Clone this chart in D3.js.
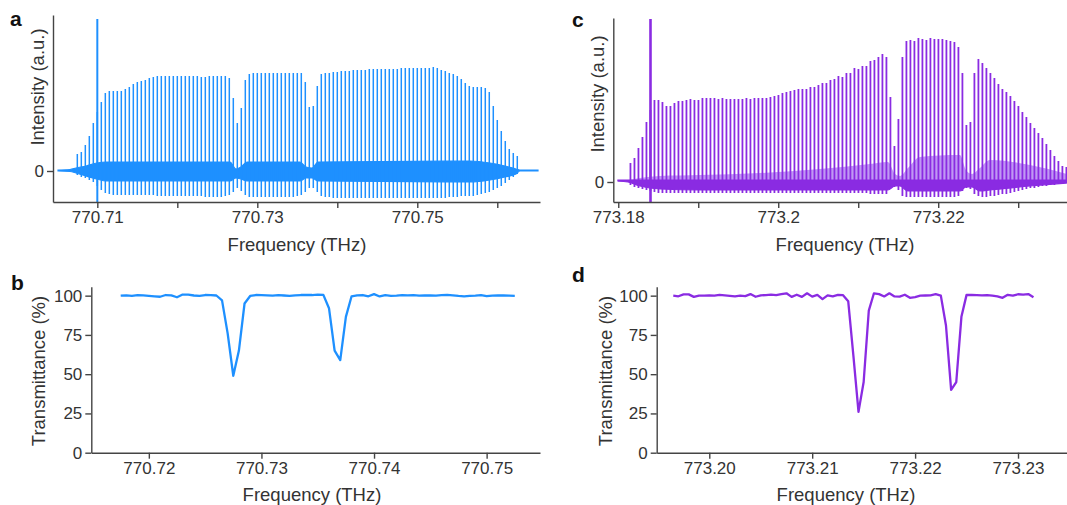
<!DOCTYPE html>
<html><head><meta charset="utf-8">
<script src="https://cdn.jsdelivr.net/npm/d3@7"></script>
<style>
html,body{margin:0;padding:0;background:#fff;}
text{font-family:"Liberation Sans",Arial,Helvetica,sans-serif;}
</style>
</head><body>
<svg id="chart" width="1067" height="505"></svg>
<script>
// ---------------- DATA ----------------
// Panel a: comb teeth (770.7075 ... 770.7625 THz, 0.5 GHz spacing)
const aFirstTooth = 770.7075, aLastTooth = 770.7625;
const aPeaks = [
 0.17,0.19,0.26,0.35,0.48,0.59,0.69,0.78,0.80,0.80,
 0.80,0.80,0.82,0.84,0.87,0.89,0.90,0.91,0.93,0.94,
 0.95,0.95,0.95,0.95,0.95,0.95,0.95,0.95,0.95,0.95,
 0.95,0.94,0.94,0.95,0.95,0.95,0.95,0.95,0.93,0.73,
 0.48,0.63,0.91,0.97,0.98,0.98,0.98,0.98,0.98,0.98,
 0.98,0.98,0.98,0.98,0.98,0.98,0.98,0.89,0.64,0.65,
 0.85,0.97,0.98,0.98,0.99,0.99,1.00,1.00,1.00,1.01,
 1.01,1.01,1.01,1.02,1.02,1.02,1.02,1.02,1.02,1.02,
 1.02,1.03,1.03,1.03,1.03,1.03,1.03,1.03,1.03,1.04,
 1.03,1.01,1.00,0.98,0.97,0.95,0.92,0.88,0.85,0.84,
 0.84,0.84,0.83,0.79,0.65,0.51,0.40,0.30,0.22,0.18,0.15];
const aTroughs = [
 -0.04,-0.06,-0.07,-0.09,-0.11,-0.15,-0.19,-0.22,-0.23,-0.24,
 -0.24,-0.24,-0.24,-0.24,-0.24,-0.24,-0.24,-0.24,-0.24,-0.24,
 -0.25,-0.25,-0.25,-0.25,-0.25,-0.25,-0.25,-0.25,-0.25,-0.25,
 -0.25,-0.25,-0.26,-0.26,-0.26,-0.26,-0.26,-0.25,-0.24,-0.21,
 -0.17,-0.20,-0.24,-0.26,-0.26,-0.26,-0.26,-0.26,-0.26,-0.26,
 -0.26,-0.26,-0.26,-0.26,-0.26,-0.25,-0.24,-0.21,-0.17,-0.17,
 -0.21,-0.25,-0.26,-0.26,-0.27,-0.27,-0.27,-0.27,-0.27,-0.27,
 -0.27,-0.27,-0.27,-0.27,-0.27,-0.27,-0.27,-0.27,-0.27,-0.27,
 -0.27,-0.27,-0.27,-0.27,-0.27,-0.27,-0.27,-0.27,-0.27,-0.27,
 -0.27,-0.27,-0.27,-0.26,-0.26,-0.26,-0.25,-0.25,-0.25,-0.25,
 -0.24,-0.23,-0.22,-0.21,-0.19,-0.17,-0.15,-0.12,-0.09,-0.06,-0.03];
// Panel a: dense oscillation band around zero (envelope knots)
const aBandFreq  = [770.70509,770.70659,770.70734,770.70859,770.70996,770.71109,770.72659,770.72734,770.72796,770.72871,770.73534,770.73609,770.73684,770.73759,770.75659,770.75909,770.76096,770.76234,770.76284,770.76509];
const aBandUpper = [0.01,0.015,0.03,0.05,0.08,0.09,0.09,0.02,0.04,0.09,0.09,0.04,0.03,0.09,0.10,0.08,0.05,0.02,0.01,0.01];
const aBandLower = [0.00,-0.005,-0.02,-0.05,-0.08,-0.10,-0.10,-0.07,-0.08,-0.10,-0.10,-0.07,-0.07,-0.10,-0.11,-0.09,-0.06,-0.03,0.00,0.00];
const aRefLine = {freq: 770.7100, top: 1.52};

// Panel c: comb teeth (773.181525 ... 773.236025 THz)
const cFirstTooth = 773.181525, cLastTooth = 773.236025;
const cPeaks = [
 0.19,0.24,0.34,0.45,0.60,0.72,0.82,0.82,0.80,0.76,
 0.76,0.79,0.81,0.81,0.82,0.83,0.82,0.82,0.84,0.84,
 0.84,0.84,0.83,0.84,0.83,0.83,0.83,0.83,0.83,0.84,
 0.83,0.84,0.84,0.84,0.84,0.85,0.86,0.87,0.89,0.90,
 0.91,0.92,0.93,0.93,0.93,0.95,0.95,0.97,0.99,0.99,
 1.02,1.03,1.06,1.05,1.09,1.09,1.14,1.13,1.16,1.16,
 1.21,1.22,1.25,1.28,1.25,0.85,0.36,0.63,1.25,1.41,
 1.42,1.41,1.44,1.43,1.42,1.44,1.43,1.43,1.43,1.42,
 1.41,1.40,1.35,1.09,0.57,0.60,1.09,1.23,1.19,1.14,
 1.09,1.04,0.98,0.93,0.90,0.86,0.81,0.76,0.70,0.65,
 0.59,0.54,0.49,0.44,0.38,0.32,0.26,0.21,0.16,0.15];
const cTroughs = [
 -0.03,-0.05,-0.06,-0.07,-0.08,-0.09,-0.10,-0.11,-0.11,-0.11,
 -0.11,-0.11,-0.11,-0.11,-0.11,-0.11,-0.11,-0.11,-0.11,-0.11,
 -0.11,-0.11,-0.11,-0.11,-0.11,-0.11,-0.11,-0.11,-0.11,-0.11,
 -0.11,-0.11,-0.11,-0.11,-0.11,-0.11,-0.11,-0.11,-0.11,-0.11,
 -0.11,-0.11,-0.11,-0.11,-0.11,-0.11,-0.11,-0.11,-0.11,-0.11,
 -0.11,-0.11,-0.11,-0.11,-0.11,-0.11,-0.11,-0.11,-0.11,-0.11,
 -0.12,-0.12,-0.12,-0.12,-0.12,-0.06,-0.05,-0.08,-0.14,-0.15,
 -0.15,-0.15,-0.15,-0.15,-0.15,-0.15,-0.15,-0.15,-0.15,-0.15,
 -0.15,-0.15,-0.14,-0.09,-0.06,-0.07,-0.12,-0.14,-0.15,-0.15,
 -0.14,-0.14,-0.13,-0.12,-0.12,-0.11,-0.10,-0.09,-0.08,-0.07,
 -0.06,-0.06,-0.05,-0.04,-0.04,-0.03,-0.03,-0.02,-0.02,-0.01];
// Panel c: oscillation band knots (light part above zero, dark part below)
const cBandFreq  = [773.17996,773.18121,773.18271,773.18521,773.19021,773.19771,773.20521,773.21146,773.21371,773.21459,773.21521,773.21621,773.21771,773.22271,773.22346,773.22421,773.22521,773.22646,773.23146,773.23609];
const cLightUpper = [0.02,0.02,0.04,0.06,0.07,0.09,0.13,0.18,0.20,0.08,0.06,0.14,0.25,0.27,0.12,0.08,0.14,0.22,0.17,0.08];
const cDarkUpper  = [0.02,0.02,0.02,0.02,0.02,0.02,0.02,0.02,0.02,0.02,0.02,0.02,0.02,0.02,0.02,0.02,0.02,0.02,0.02,0.02];
const cDarkLower  = [0.01,0.00,-0.04,-0.07,-0.08,-0.08,-0.08,-0.08,-0.08,-0.04,-0.04,-0.09,-0.09,-0.09,-0.05,-0.05,-0.09,-0.08,-0.04,-0.01];
const cRefLine = {freq: 773.18403, top: 1.63};

// Panel b: transmittance (%) at 770.7175 ... 770.7525 THz
const bFirstFreq = 770.7175, bLastFreq = 770.7525;
const bValues = [
 100.0,100.2,99.8,100.3,100.2,99.9,99.6,99.3,100.4,100.2,
 99.0,100.7,100.6,100.1,99.9,100.4,100.3,100.1,97.0,76.0,
 49.0,65.0,95.0,99.8,100.4,100.3,100.2,100.0,100.3,100.1,
 99.8,100.2,100.4,100.5,100.4,100.6,100.5,92.0,65.0,59.0,
 86.5,99.5,100.2,100.4,99.6,101.0,99.5,100.3,99.9,100.0,
 100.4,100.2,100.3,100.0,100.1,100.2,100.0,100.3,100.5,100.2,
 99.8,99.6,99.8,100.0,100.3,99.7,100.0,100.2,100.1,100.0,99.9];
// Panel d: transmittance (%) at 773.1965 ... 773.2315 THz
const dFirstFreq = 773.1965, dLastFreq = 773.2315;
const dValues = [
 100.0,99.6,100.8,100.8,99.2,100.0,100.0,100.1,100.0,100.5,
 100.2,99.9,99.6,100.0,99.7,101.0,99.3,100.2,100.4,100.6,
 100.3,100.9,101.5,99.2,100.6,99.2,101.5,99.4,100.5,97.8,
 100.2,99.6,100.5,100.3,96.5,62.0,26.0,45.0,90.5,101.5,
 101.0,99.5,101.5,99.5,99.4,100.6,98.6,99.1,100.0,100.1,
 100.2,101.0,100.0,81.0,40.0,45.0,86.5,100.5,100.4,100.3,
 100.2,100.3,100.0,99.6,98.6,100.5,100.0,100.9,100.7,101.0,99.0];

// Ticks
const aXTicks = [770.71,770.72,770.73,770.74,770.75,770.76];
const aXLabels = ["770.71","","770.73","","770.75",""];
const cXTicks = [773.18,773.19,773.20,773.21,773.22,773.23];
const cXLabels = ["773.18","","773.2","","773.22",""];
const intensityTicks = [0], intensityLabels = ["0"];
const bXTicks = [770.72,770.73,770.74,770.75];
const bXLabels = ["770.72","770.73","770.74","770.75"];
const dXTicks = [773.20,773.21,773.22,773.23];
const dXLabels = ["773.20","773.21","773.22","773.23"];
const tTicks = [0,25,50,75,100];
const tLabels = ["0","25","50","75","100"];

// ---------------- DRAWING ----------------
const BLUE = '#1e90ff', PURPLE = '#8a2be2', LILAC = '#b586f2';
const AX = '#444', TX = '#333';
const svg = d3.select('#chart');
svg.append('rect').attr('width',1067).attr('height',505).attr('fill','#fff');

function makePanel(o){
  const g = svg.append('g');
  const x = d3.scaleLinear().domain(o.xDomain).range(o.xRange);
  const y = d3.scaleLinear().domain(o.yDomain).range(o.yRange);
  const data = g.append('g');
  const axX = d3.axisBottom(x).tickValues(o.xTicks).tickFormat((d,i)=>o.xLabels[i])
      .tickSize(6).tickSizeOuter(0).tickPadding(3);
  const axY = d3.axisLeft(y).tickValues(o.yTicks).tickFormat((d,i)=>o.yLabels[i])
      .tickSize(6).tickSizeOuter(0).tickPadding(3);
  const gx = g.append('g').attr('transform',`translate(0,${o.yRange[0]})`).call(axX);
  const gy = g.append('g').attr('transform',`translate(${o.xRange[0]},0)`).call(axY);
  [gx,gy].forEach(a=>{
    a.select('.domain').attr('stroke',AX).attr('stroke-width',1.4);
    a.selectAll('.tick line').attr('stroke',AX).attr('stroke-width',1.4);
    a.selectAll('.tick text').attr('fill',TX).attr('font-size',17)
      .attr('font-family','"Liberation Sans",Arial,sans-serif');
  });
  g.append('text').text('Frequency (THz)').attr('x',o.xTitle[0]).attr('y',o.xTitle[1])
    .attr('text-anchor','middle').attr('font-size',18.5).attr('fill',TX);
  g.append('text').text(o.yTitleText)
    .attr('transform',`translate(${o.yTitle[0]},${o.yTitle[1]}) rotate(-90)`)
    .attr('text-anchor','middle').attr('dy','0.35em').attr('font-size',18.5).attr('fill',TX);
  g.append('text').text(o.letter).attr('x',o.letterPos[0]).attr('y',o.letterPos[1])
    .attr('font-weight','bold').attr('font-size',21).attr('fill','#111');
  return {g:data,x,y};
}

// ---- Panel a ----
const pa = makePanel({xDomain:[770.70446,770.76534], xRange:[53,540], yDomain:[-0.31,1.56], yRange:[202,15],
  xTicks:aXTicks, xLabels:aXLabels, yTicks:intensityTicks, yLabels:intensityLabels,
  xTitle:[297,251], yTitle:[38,87], yTitleText:'Intensity (a.u.)', letter:'a', letterPos:[10,26]});
{
  const bandData = aBandFreq.map((f,i)=>({f, hi:aBandUpper[i], lo:aBandLower[i]}));
  pa.g.append('path').datum(bandData)
    .attr('d', d3.area().x(d=>pa.x(d.f)).y0(d=>pa.y(d.lo)).y1(d=>pa.y(d.hi)).curve(d3.curveMonotoneX))
    .attr('fill',BLUE).attr('stroke',BLUE).attr('stroke-width',1.2);
  const idx = d3.scaleLinear().domain([0,aPeaks.length-1]).range([aFirstTooth,aLastTooth]);
  pa.g.append('g').selectAll('line').data(aPeaks).join('line')
    .attr('x1',(d,i)=>pa.x(idx(i))).attr('x2',(d,i)=>pa.x(idx(i)))
    .attr('y1',d=>pa.y(d)).attr('y2',(d,i)=>pa.y(aTroughs[i]))
    .attr('stroke',BLUE).attr('stroke-width',1.5);
  pa.g.append('line').attr('x1',pa.x(aRefLine.freq)).attr('x2',pa.x(aRefLine.freq))
    .attr('y1',pa.y(aRefLine.top)).attr('y2',pa.y(-0.31))
    .attr('stroke',BLUE).attr('stroke-width',2);
}

// ---- Panel c ----
const pc = makePanel({xDomain:[773.17938,773.2361], xRange:[613.3,1067], yDomain:[-0.20,1.64], yRange:[202,18],
  xTicks:cXTicks, xLabels:cXLabels, yTicks:intensityTicks, yLabels:intensityLabels,
  xTitle:[845,251], yTitle:[598,94], yTitleText:'Intensity (a.u.)', letter:'c', letterPos:[572,27]});
{
  const light = cBandFreq.map((f,i)=>({f, hi:cLightUpper[i], lo:0}));
  pc.g.append('path').datum(light)
    .attr('d', d3.area().x(d=>pc.x(d.f)).y0(d=>pc.y(d.lo)).y1(d=>pc.y(d.hi)).curve(d3.curveMonotoneX))
    .attr('fill',LILAC).attr('opacity',0.85);
  const idx = d3.scaleLinear().domain([0,cPeaks.length-1]).range([cFirstTooth,cLastTooth]);
  pc.g.append('g').selectAll('line').data(cPeaks).join('line')
    .attr('x1',(d,i)=>pc.x(idx(i))).attr('x2',(d,i)=>pc.x(idx(i)))
    .attr('y1',d=>pc.y(d)).attr('y2',(d,i)=>pc.y(cTroughs[i]))
    .attr('stroke',PURPLE).attr('stroke-width',1.8);
  const dark = cBandFreq.map((f,i)=>({f, hi:cDarkUpper[i], lo:cDarkLower[i]}));
  pc.g.append('path').datum(dark)
    .attr('d', d3.area().x(d=>pc.x(d.f)).y0(d=>pc.y(d.lo)).y1(d=>pc.y(d.hi)).curve(d3.curveMonotoneX))
    .attr('fill',PURPLE).attr('stroke',PURPLE).attr('stroke-width',1.2);
  pc.g.append('line').attr('x1',pc.x(cRefLine.freq)).attr('x2',pc.x(cRefLine.freq))
    .attr('y1',pc.y(cRefLine.top)).attr('y2',pc.y(-0.20))
    .attr('stroke',PURPLE).attr('stroke-width',2.6);
}

// ---- Panel b ----
const pb = makePanel({xDomain:[770.71489,770.75474], xRange:[91.3,540], yDomain:[0,105.7], yRange:[452.7,286.7],
  xTicks:bXTicks, xLabels:bXLabels, yTicks:tTicks, yLabels:tLabels,
  xTitle:[312,501], yTitle:[39,371], yTitleText:'Transmittance (%)', letter:'b', letterPos:[11,290]});
{
  const idx = d3.scaleLinear().domain([0,bValues.length-1]).range([bFirstFreq,bLastFreq]);
  pb.g.append('path').datum(bValues)
    .attr('d', d3.line().x((d,i)=>pb.x(idx(i))).y(d=>pb.y(d)))
    .attr('fill','none').attr('stroke',BLUE).attr('stroke-width',2.3).attr('stroke-linejoin','round');
}

// ---- Panel d ----
const pd = makePanel({xDomain:[773.19489,773.23476], xRange:[656.7,1067], yDomain:[0,105.7], yRange:[452.7,286.7],
  xTicks:dXTicks, xLabels:dXLabels, yTicks:tTicks, yLabels:tLabels,
  xTitle:[846,501], yTitle:[606,371], yTitleText:'Transmittance (%)', letter:'d', letterPos:[572,282]});
{
  const idx = d3.scaleLinear().domain([0,dValues.length-1]).range([dFirstFreq,dLastFreq]);
  pd.g.append('path').datum(dValues)
    .attr('d', d3.line().x((d,i)=>pd.x(idx(i))).y(d=>pd.y(d)))
    .attr('fill','none').attr('stroke',PURPLE).attr('stroke-width',2.3).attr('stroke-linejoin','round');
}
</script>
</body></html>
